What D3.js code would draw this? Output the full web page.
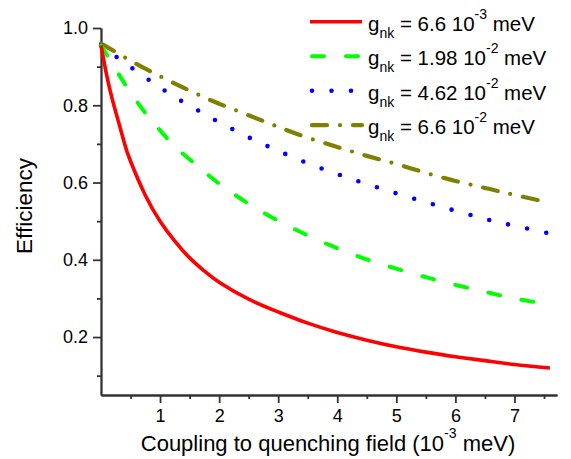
<!DOCTYPE html>
<html>
<head>
<meta charset="utf-8">
<script src="https://cdn.jsdelivr.net/npm/d3@7"></script>
<style>
    body { margin: 0; background: #fff; }
    text { font-family: "Liberation Sans", Arial, sans-serif; fill: #000; }
</style>
</head>
<body>
<div id="chart"></div>
<script>
// coupling to quenching field (10^-3 meV)
const coupling = [0, 0.1, 0.2, 0.3, 0.4, 0.5, 0.75, 1, 1.25, 1.5, 1.75, 2, 2.5, 3, 3.5, 4, 4.5, 5, 5.5, 6, 6.5, 7, 7.6]

// efficiency for each g_nk
const eff_66e3 = [0.955, 0.875, 0.81, 0.755, 0.70, 0.655, 0.567, 0.50, 0.448, 0.405, 0.371, 0.342, 0.298, 0.265, 0.236, 0.212, 0.192, 0.175, 0.161, 0.149, 0.139, 0.129, 0.12]
const eff_198e2 = [0.955, 0.93, 0.905, 0.88, 0.856, 0.833, 0.78, 0.735, 0.693, 0.66, 0.628, 0.597, 0.545, 0.501, 0.463, 0.43, 0.401, 0.377, 0.355, 0.335, 0.317, 0.30, 0.284]
const eff_462e2 = [0.955, 0.944, 0.932, 0.921, 0.91, 0.899, 0.872, 0.846, 0.821, 0.799, 0.777, 0.756, 0.717, 0.682, 0.65, 0.622, 0.596, 0.572, 0.549, 0.527, 0.506, 0.488, 0.468]
const eff_66e2 = [0.96, 0.951, 0.942, 0.933, 0.924, 0.915, 0.895, 0.875, 0.856, 0.838, 0.82, 0.804, 0.774, 0.744, 0.716, 0.692, 0.669, 0.648, 0.625, 0.604, 0.586, 0.568, 0.548]

// legend labels: mantissa and exponent
const g_values = ["6.6", "1.98", "4.62", "6.6"]
const g_exps = ["-3", "-2", "-2", "-2"]

const x_ticks = [1, 2, 3, 4, 5, 6, 7]
const x_minor = [0.5, 1.5, 2.5, 3.5, 4.5, 5.5, 6.5, 7.5]
const y_ticks = [0.2, 0.4, 0.6, 0.8, 1.0]
const y_minor = [0.1, 0.3, 0.5, 0.7, 0.9]

const series = [
    { name: "a", values: eff_66e3, color: "#ff0000", width: 3.6, dash: null },
    { name: "b", values: eff_198e2, color: "#00ff00", width: 4, dash: "12 22" },
    { name: "c", values: eff_462e2, color: "#0000ff", width: 4.6, dash: "0 19.5" },
    { name: "d", values: eff_66e2, color: "#808000", width: 4.2, dash: "15 13 0 13" }
]

const svgWidth = 571
const svgHeight = 459

const margin = { left: 101, right: 14, top: 28, bottom: 64 }
const width = svgWidth - margin.left - margin.right
const height = svgHeight - margin.top - margin.bottom

const svg = d3.select('#chart')
    .append('svg')
    .attr("width", svgWidth)
    .attr("height", svgHeight)

const g = svg.append('g')
    .attr("transform", `translate(${margin.left},${margin.top})`)

////////////// scales //////////////

const x = d3.scaleLinear()
    .domain([0, 7.72])
    .range([0, width])

const y = d3.scaleLinear()
    .domain([0.05, 1.0])
    .range([height, 0])

////////////// axes //////////////

const axisColor = "#333"

g.append("g")
    .attr("transform", `translate(0,${height})`)
    .call(d3.axisBottom(x).tickValues(x_ticks).tickSize(8).tickSizeOuter(0).tickPadding(6).tickFormat(d3.format("d")))

g.append("g")
    .attr("transform", `translate(0,${height})`)
    .call(d3.axisBottom(x).tickValues(x_minor).tickSize(4).tickSizeOuter(0).tickFormat(""))

g.append("g")
    .call(d3.axisLeft(y).tickValues(y_ticks).tickSize(8).tickSizeOuter(0).tickPadding(5).tickFormat(d3.format(".1f")))

g.append("g")
    .call(d3.axisLeft(y).tickValues(y_minor).tickSize(4).tickSizeOuter(0).tickFormat(""))

g.selectAll(".domain, .tick line")
    .attr("stroke", axisColor)
    .attr("stroke-width", 1.8)

g.selectAll(".tick text")
    .style("font-size", "18px")
    .style("font-family", "'Liberation Sans', Arial, sans-serif")
    .attr("fill", "#000")

// axis titles
svg.append("text")
    .attr("x", 328)
    .attr("y", 451)
    .attr("text-anchor", "middle")
    .style("font-size", "22px")
    .call(t => {
        t.append("tspan").text("Coupling to quenching field (10")
        t.append("tspan").attr("dy", -13).style("font-size", "14px").text("-3")
        t.append("tspan").attr("dy", 13).text(" meV)")
    })

svg.append("text")
    .attr("transform", `translate(32,206) rotate(-90)`)
    .attr("text-anchor", "middle")
    .style("font-size", "22.5px")
    .text("Efficiency")

////////////// lines //////////////

const line = d3.line()
    .x((d, i) => x(coupling[i]))
    .y(d => y(d))
    .curve(d3.curveNatural)

g.append("g")
    .selectAll("path")
    .data(series.slice().reverse())
    .join("path")
    .attr("d", d => line(d.values))
    .attr("fill", "none")
    .attr("stroke", d => d.color)
    .attr("stroke-width", d => d.width)
    .attr("stroke-dasharray", d => d.dash)
    .attr("stroke-linecap", d => d.dash ? "round" : "butt")
    .attr("stroke-linejoin", "round")

////////////// legend //////////////

const legend = svg.append("g")
    .selectAll("g")
    .data(series)
    .join("g")
    .attr("transform", (d, i) => `translate(0,${21.7 + i * 34.5})`)

legend.append("line")
    .attr("x1", d => d.dash ? 312 : 310)
    .attr("x2", 362)
    .attr("y1", 0)
    .attr("y2", 0)
    .attr("stroke", d => d.color)
    .attr("stroke-width", d => d.width)
    .attr("stroke-dasharray", d => d.dash)
    .attr("stroke-linecap", d => d.dash ? "round" : "butt")

legend.append("text")
    .attr("x", 368)
    .attr("y", 9)
    .style("font-size", "20.5px")
    .each(function (d, i) {
        const t = d3.select(this)
        t.append("tspan").text("g")
        t.append("tspan").attr("dy", 7).style("font-size", "14px").text("nk")
        t.append("tspan").attr("dy", -7).text(` = ${g_values[i]} 10`)
        t.append("tspan").attr("dy", -12).style("font-size", "14px").text(g_exps[i])
        t.append("tspan").attr("dy", 12).text(" meV")
    })
</script>
</body>
</html>
